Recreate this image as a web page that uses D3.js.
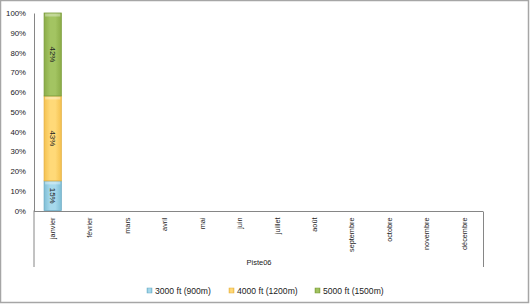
<!DOCTYPE html>
<html><head><meta charset="utf-8">
<script src="https://cdn.jsdelivr.net/npm/d3@7"></script>
<style>body{margin:0;background:#fff}svg{display:block}text{font-family:"Liberation Sans",Arial,sans-serif;fill:#222}</style>
</head><body><svg id="c" width="530" height="305"></svg>
<script>
const categories = ["janvier","février","mars","avril","mai","juin","juillet","août","septembre","octobre","novembre","décembre"];
const seriesNames = ["3000 ft (900m)","4000 ft (1200m)","5000 ft (1500m)"];
const s3000 = [15,null,null,null,null,null,null,null,null,null,null,null];
const s4000 = [43,null,null,null,null,null,null,null,null,null,null,null];
const s5000 = [42,null,null,null,null,null,null,null,null,null,null,null];
const yTicks = [0,10,20,30,40,50,60,70,80,90,100];
const groupTitle = "Piste06";

(function(){
const colors = [
  {fill:"#a7d9ec", dark:"#7fbfd6", stroke:"#6aaac4"},
  {fill:"#ffd978", dark:"#f5c250", stroke:"#e3ae3f"},
  {fill:"#a3c462", dark:"#8cad48", stroke:"#779a37"}
];

const svg = d3.select("#c");
svg.append("rect").attr("x",0.5).attr("y",0.5).attr("width",528).attr("height",302)
  .attr("fill","#fff").attr("stroke","#a6a6a6").attr("stroke-width",1.5);

const defs = svg.append("defs");
colors.forEach((c,i)=>{
  const g = defs.append("linearGradient").attr("id","g"+i).attr("x1","0").attr("x2","1").attr("y1","0").attr("y2","0");
  g.append("stop").attr("offset","0").attr("stop-color",c.dark);
  g.append("stop").attr("offset","0.35").attr("stop-color",c.fill);
  g.append("stop").attr("offset","0.65").attr("stop-color",c.fill);
  g.append("stop").attr("offset","1").attr("stop-color",c.dark);
});

const pL = 34, pR = 483, pT = 13, pB = 210.5;
const x = d3.scaleBand().domain(categories).range([pL,pR]).paddingInner(0.54).paddingOuter(0.27);
const y = d3.scaleLinear().domain([0,100]).range([pB,pT]);

const yAxis = d3.axisLeft(y).tickValues(yTicks).tickFormat(d=>d+"%").tickSize(0).tickPadding(8);
const ya = svg.append("g").attr("transform",`translate(${pL},0)`).call(yAxis);
ya.select(".domain").attr("stroke","#868686");
ya.selectAll("text").style("font-size","7.8px").attr("fill","#222").style("font-family","Liberation Sans, Arial, sans-serif");

const xa = svg.append("g");
xa.append("line").attr("x1",pL).attr("x2",pR).attr("y1",pB+1).attr("y2",pB+1).attr("stroke","#868686");
xa.append("line").attr("x1",pL).attr("x2",pL).attr("y1",pB).attr("y2",267).attr("stroke","#868686");
xa.append("line").attr("x1",pR+0.5).attr("x2",pR+0.5).attr("y1",pB+1).attr("y2",267).attr("stroke","#868686");
const xAxis = d3.axisBottom(x).tickSize(0).tickPadding(0);
const xg = svg.append("g").attr("transform",`translate(0,${pB+1})`).call(xAxis);
xg.select(".domain").remove();
xg.selectAll("text").attr("transform","rotate(-90)").attr("text-anchor","end")
  .attr("x",-6).attr("y",0).attr("dy","0.32em")
  .style("font-size","7.3px").attr("fill","#222").style("font-family","Liberation Sans, Arial, sans-serif");
svg.append("text").attr("x",259).attr("y",265).attr("text-anchor","middle")
  .style("font-size","7.5px").text(groupTitle);

const rows = categories.map((c,i)=>({cat:c, a:s3000[i], b:s4000[i], c5:s5000[i]}));
const stack = d3.stack().keys(["a","b","c5"]).value((d,k)=>d[k]||0)(rows);
stack.forEach((layer,li)=>{
  const g = svg.append("g");
  layer.forEach((d,i)=>{
    if(d[1]-d[0] <= 0) return;
    const x0 = x(d.data.cat), w = x.bandwidth();
    g.append("rect").attr("x",x0).attr("y",y(d[1])).attr("width",w).attr("height",y(d[0])-y(d[1]))
      .attr("fill",`url(#g${li})`).attr("stroke",colors[li].stroke).attr("stroke-width",0.8);
    g.append("rect").attr("x",x0+1).attr("y",y(d[1])+0.5).attr("width",w-2).attr("height",3)
      .attr("fill","#fff").attr("opacity",0.35);
    const cy = (y(d[0])+y(d[1]))/2, cx = x0+w/2;
    g.append("text").attr("transform",`translate(${cx},${cy}) rotate(90)`).attr("text-anchor","middle")
      .attr("dy","0.35em").style("font-size","8px").attr("fill","#222").text(Math.round(d[1]-d[0])+"%");
  });
});

const legX = [147,229,315];
const lg = svg.append("g");
seriesNames.forEach((n,i)=>{
  lg.append("rect").attr("x",legX[i]).attr("y",288).attr("width",5).attr("height",5)
    .attr("fill",`url(#g${i})`).attr("stroke",colors[i].stroke).attr("stroke-width",0.5);
  lg.append("text").attr("x",legX[i]+8).attr("y",290.5).attr("dy","0.35em").style("font-size","8.6px").text(n);
});
})();
</script></body></html>
